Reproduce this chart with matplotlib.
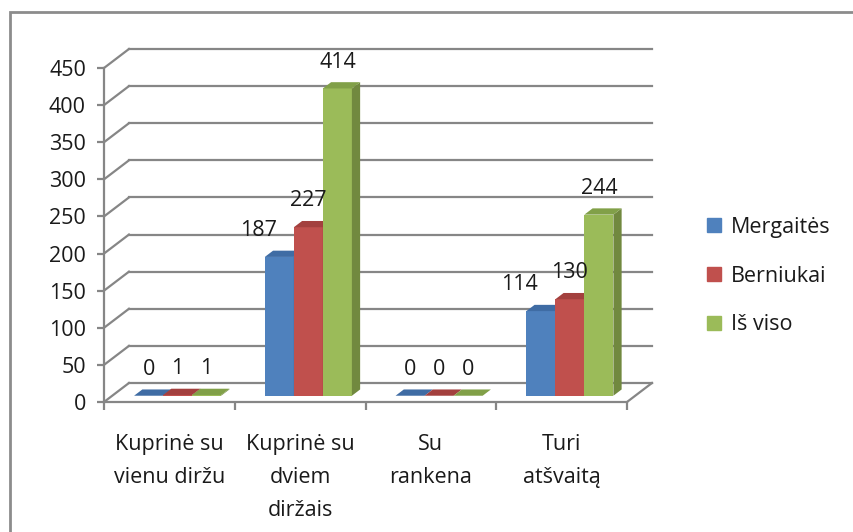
import matplotlib
matplotlib.use('Agg')
import matplotlib.pyplot as plt
from matplotlib.patches import Polygon, Rectangle, Patch
import numpy as np

plt.rcParams['font.family'] = ['Open Sans', 'DejaVu Sans']
plt.rcParams['text.color'] = '#1a1a1a'

categories = ['Kuprinė su\nvienu diržu', 'Kuprinė su\ndviem\ndiržais',
              'Su\nrankena', 'Turi\natšvaitą']
series = ['Mergaitės', 'Berniukai', 'Iš viso']
mergaites = [0, 187, 0, 114]
berniukai = [1, 227, 0, 130]
is_viso = [1, 414, 0, 244]
yticks = [0, 50, 100, 150, 200, 250, 300, 350, 400, 450]

values = [mergaites, berniukai, is_viso]
front = ['#4F81BD', '#C0504D', '#9BBB59']
side = ['#385D8A', '#8C3836', '#71893F']
top = ['#3F6CA4', '#A3403E', '#81A048']
grid_c = '#868686'
fs = 15.5

W, H = 854, 532
fig = plt.figure(figsize=(W / 100, H / 100), dpi=100)
# plot area: front floor edge from x=104px to 627px, value 0 at y=402px, 450 at y=68px
ax = fig.add_axes([104 / W, (H - 402) / H, 523 / W, 334 / H])
ax.set_xlim(0, 4)
ax.set_ylim(0, 450)
ax.patch.set_visible(False)

# depth of the 3d box in data units
DX = 25 / 131
DY = 19 * 450 / 334
d0, d1 = 0.33, 0.66
bw = 0.222

# back wall gridlines + left wall diagonals
for v in yticks:
    ax.plot([DX, 4 + DX], [v + DY, v + DY], color=grid_c, lw=1.6, clip_on=False, zorder=1)
    ax.plot([0, DX], [v, v + DY], color=grid_c, lw=1.6, clip_on=False, zorder=1)
# floor right edge
ax.plot([4, 4 + DX], [0, DY], color=grid_c, lw=1.6, clip_on=False, zorder=1)

# bars
for i in range(len(categories)):
    for s in range(3):
        v = values[s][i]
        x0 = i + 0.5 - 1.5 * bw + s * bw + DX * d0
        x1 = x0 + bw
        b = DY * d0
        ddx, ddy = DX * (d1 - d0), DY * (d1 - d0)
        z = 3 + i * 3 + s
        ax.bar(x0, v, width=bw, bottom=b, align='edge', color=front[s],
               lw=0, zorder=z, clip_on=False)
        ax.add_patch(Polygon([(x1, b), (x1 + ddx, b + ddy), (x1 + ddx, b + v + ddy), (x1, b + v)],
                             closed=True, fc=side[s], lw=0, zorder=z, clip_on=False))
        ax.add_patch(Polygon([(x0, b + v), (x1, b + v), (x1 + ddx, b + v + ddy), (x0 + ddx, b + v + ddy)],
                             closed=True, fc=top[s], lw=0, zorder=z, clip_on=False))
        shift = 0
        if s == 0 and v > 50:
            shift = -21
        ax.annotate(str(v), ((x0 + x1) / 2, v + DY * d1), xytext=(shift, 20),
                    textcoords='offset pixels', ha='center', va='center',
                    fontsize=fs, zorder=20, annotation_clip=False)

# axes
for sp in ['top', 'right']:
    ax.spines[sp].set_visible(False)
for sp in ['left', 'bottom']:
    ax.spines[sp].set_color(grid_c)
    ax.spines[sp].set_linewidth(1.6)
    ax.spines[sp].set_zorder(30)
ax.set_yticks(yticks)
ax.tick_params(axis='y', length=5, width=1.6, color=grid_c, pad=8, labelsize=fs,
               labelcolor='#1a1a1a')
ax.set_xticks([0, 1, 2, 3, 4])
ax.set_xticklabels([])
ax.set_xticks([0.5, 1.5, 2.5, 3.5], minor=True)
ax.set_xticklabels(categories, minor=True, fontsize=fs, linespacing=1.75, va='top')
ax.tick_params(axis='x', which='major', length=6, width=1.6, color=grid_c)
ax.tick_params(axis='x', which='minor', length=0, pad=23, labelcolor='#1a1a1a')

# legend
handles = [Patch(color=c) for c in front]
fig.legend(handles, series, loc='center left', bbox_to_anchor=(707 / W, 1 - 276 / H),
           frameon=False, fontsize=fs, handlelength=0.65, handleheight=0.65,
           handletextpad=0.45, labelspacing=1.3, borderpad=0, borderaxespad=0)

# chart frame
fig.add_artist(Rectangle((10 / W, -0.1), 1.1, 1 - 12 / H + 0.1, transform=fig.transFigure,
                         fill=False, ec='#8c8c8c', lw=2))

fig.savefig('out.png', dpi=100)
